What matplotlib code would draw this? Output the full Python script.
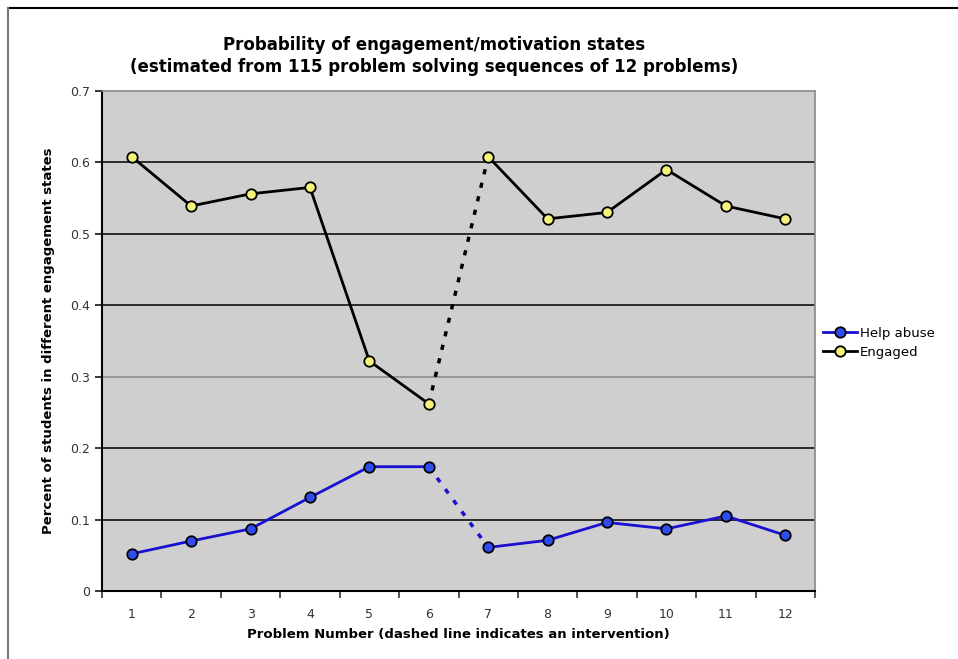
import matplotlib
matplotlib.use("Agg")
import matplotlib.pyplot as plt
from matplotlib.lines import Line2D

problems = [1, 2, 3, 4, 5, 6, 7, 8, 9, 10, 11, 12]
help_abuse = [0.052, 0.070, 0.087, 0.131, 0.174, 0.174, 0.061, 0.071, 0.096, 0.087, 0.105, 0.078]
engaged = [0.608, 0.539, 0.556, 0.565, 0.322, 0.262, 0.608, 0.521, 0.530, 0.590, 0.539, 0.521]
intervention_after = 6  # dashed segment between problem 6 and 7
y_ticks = [0, 0.1, 0.2, 0.3, 0.4, 0.5, 0.6, 0.7]
y_tick_labels = ["0", "0.1", "0.2", "0.3", "0.4", "0.5", "0.6", "0.7"]

W, H = 958, 659
fig = plt.figure(figsize=(W / 100, H / 100), dpi=100)
ax = fig.add_axes([102 / W, 1 - 591 / H, (815 - 102) / W, (591 - 91) / H])
ax.set_facecolor("#cfcfcf")

i = problems.index(intervention_after)

def draw(series, lc, mfc, label):
    xs1, ys1 = problems[: i + 1], series[: i + 1]
    xs2, ys2 = problems[i + 1:], series[i + 1:]
    ax.plot(xs1, ys1, color=lc, lw=2, zorder=3)
    ax.plot(xs2, ys2, color=lc, lw=2, zorder=3)
    ax.plot(problems[i:i + 2], series[i:i + 2], color=lc, lw=2.5,
            ls=(0, (1.5, 2.5)), zorder=3)
    ax.plot(problems, series, ls="none", marker="o", ms=7.5, mfc=mfc,
            mec="black", mew=1.3, zorder=4)
    return Line2D([], [], color=lc, lw=2, marker="o", ms=7.5, mfc=mfc,
                  mec="black", mew=1.3, label=label)

h1 = draw(help_abuse, "#1a10d0", "#2f4cf0", "Help abuse")
h2 = draw(engaged, "black", "#f4f27a", "Engaged")

ax.set_xlim(0.5, 12.5)
ax.set_ylim(0, 0.7)
ax.set_yticks(y_ticks)
ax.set_yticklabels(y_tick_labels)
for y in y_ticks[1:-1]:
    ax.axhline(y, color="#888888" if y == 0.3 else "black", lw=1.1, zorder=1)

ax.set_xticks(problems)
ax.set_xticklabels([str(p) for p in problems])
ax.set_xticks([p + 0.5 for p in [0] + problems], minor=True)
ax.tick_params(axis="x", which="major", length=0, pad=12, labelsize=9, labelcolor="#333333")
ax.tick_params(axis="x", which="minor", length=5, direction="out", width=1.1, color="#222222")
ax.tick_params(axis="y", length=5, direction="out", width=1.1, labelsize=9, labelcolor="#333333")

for s in ["left", "bottom"]:
    ax.spines[s].set_color("black")
    ax.spines[s].set_linewidth(1.5)
for s in ["right", "top"]:
    ax.spines[s].set_color("#888888")
    ax.spines[s].set_linewidth(1.2)

ax.set_xlabel("Problem Number (dashed line indicates an intervention)",
              fontsize=9.5, fontweight="bold", labelpad=5)
ax.set_ylabel("Percent of students in different engagement states",
              fontsize=9.5, fontweight="bold", labelpad=11)

fig.text(434 / W, 1 - 56 / H,
         "Probability of engagement/motivation states\n(estimated from 115 problem solving sequences of 12 problems)",
         ha="center", va="center", fontsize=12, fontweight="bold", linespacing=1.3)

fig.legend(handles=[h1, h2], loc="center left", bbox_to_anchor=(816 / W, 1 - 343 / H),
           frameon=False, fontsize=9.5, handlelength=2.6, handletextpad=0.25,
           labelspacing=0.45, borderpad=0)

fig.add_artist(Line2D([8 / W, 1], [1 - 8 / H, 1 - 8 / H], color="black", lw=1.5,
                      transform=fig.transFigure))
fig.add_artist(Line2D([8 / W, 8 / W], [0, 1 - 8 / H], color="#777777", lw=1.5,
                      transform=fig.transFigure))

fig.savefig("out.png", dpi=100)
